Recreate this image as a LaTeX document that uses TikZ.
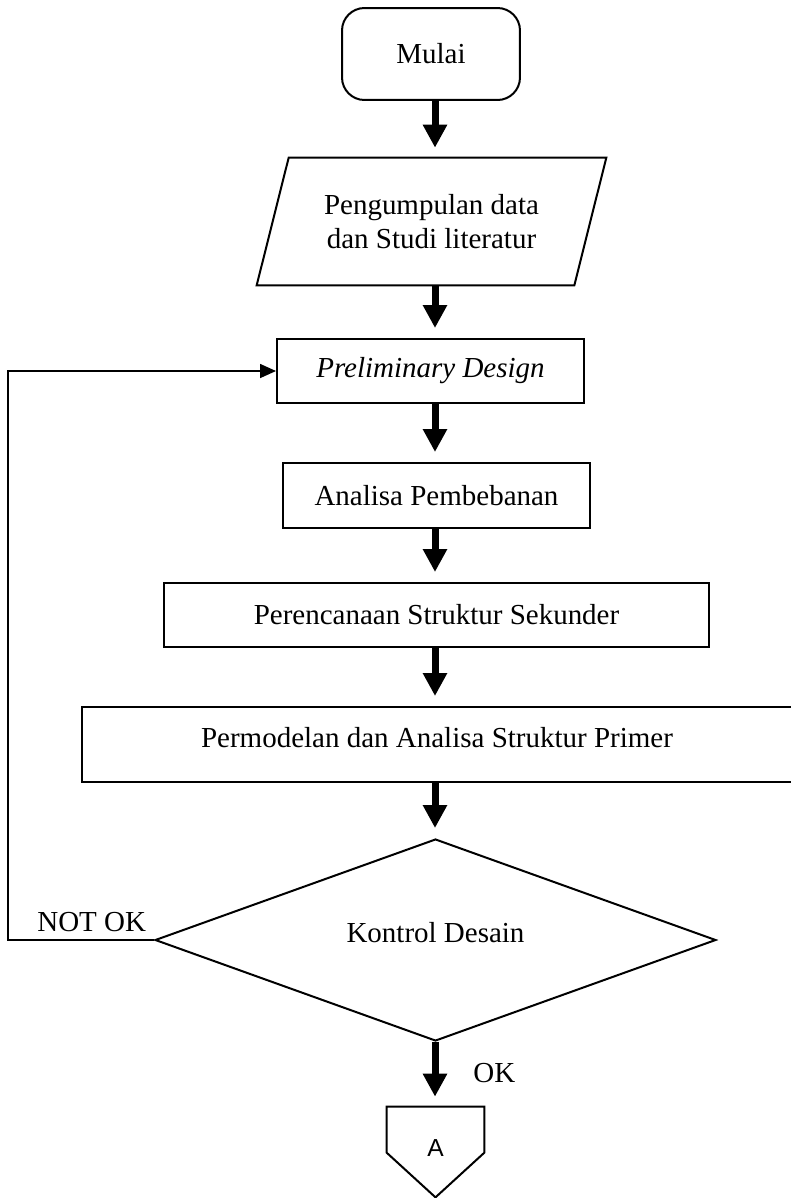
\documentclass[tikz,border=0pt]{standalone}
\usepackage{fontspec}
\setmainfont{Liberation Serif}
\newfontfamily\arialfont{Liberation Sans}
\usetikzlibrary{arrows.meta,shapes.geometric,calc}

\begin{document}
\begin{tikzpicture}[x=0.02cm,y=-0.02cm,
  txt/.style={font=\fontsize{16.5}{19.5}\selectfont},
  kotak/.style={draw,line width=0.04cm,txt,inner sep=0pt},
  alir/.style={line width=0.14cm,-{Triangle[width=0.46cm,length=0.46cm]},shorten >=0.2cm},
  balik/.style={line width=0.03cm,-{Triangle[width=0.28cm,length=0.32cm]}}]
\useasboundingbox[fill=white] (0,0) rectangle (791,1198);
\coordinate (kol) at (435,0);
\coordinate (kiri) at (8,0);
% kotak-kotak proses
\node[kotak,rounded corners=0.45cm,minimum width=3.56cm,minimum height=1.84cm] (mulai) at (431,54) {Mulai};
\node[txt,align=center,inner sep=0pt,minimum width=6.34cm,minimum height=2.54cm] (data) at (431.5,221.5) {Pengumpulan data\\dan Studi literatur};
\draw[line width=0.04cm] ($(data.north west)+(16,0)$) -- ($(data.north east)+(16,0)$) -- ($(data.south east)+(-16,0)$) -- ($(data.south west)+(-16,0)$) -- cycle;
\node[kotak,minimum width=6.14cm,minimum height=1.28cm] (pre) at (430.5,371) {\itshape Preliminary Design};
\node[kotak,minimum width=6.14cm,minimum height=1.3cm] (analisa) at (436.5,495.5) {Analisa Pembebanan};
\node[kotak,minimum width=10.9cm,minimum height=1.28cm] (rencana) at (436.5,615) {Perencanaan Struktur Sekunder};
\node[kotak,minimum width=14.2cm,minimum height=1.5cm] (model) at (437,744.5) {\raisebox{0.3cm}{Permodelan dan Analisa Struktur Primer}};
\node[kotak,diamond,shape aspect=2.8,minimum width=11.22cm,minimum height=4.04cm] (ctrl) at (435.5,940) {\raisebox{0.3cm}{Kontrol Desain}};
\node[font=\arialfont\fontsize{14}{16}\selectfont,inner sep=0pt,minimum width=1.94cm,minimum height=1.8cm] (sambung) at (435.5,1152) {\raisebox{0.15cm}{A}};
\draw[line width=0.04cm] (sambung.north west) -- (sambung.north east) -- ($(sambung.north east)+(0,46)$) -- (sambung.south) -- ($(sambung.north west)+(0,46)$) -- cycle;
% label
\node[txt,anchor=west,inner sep=0pt] (notok) at (37,922) {NOT OK};
\node[txt,anchor=west,inner sep=0pt] (ok) at (473,1073) {OK};
% panah
\draw[alir] (mulai.south -| kol) -- (data.north -| kol);
\draw[alir] (data.south -| kol) -- (pre.north -| kol);
\draw[alir] (pre.south -| kol) -- (analisa.north -| kol);
\draw[alir] (analisa.south -| kol) -- (rencana.north -| kol);
\draw[alir] (rencana.south -| kol) -- (model.north -| kol);
\draw[alir] (model.south -| kol) -- (ctrl.north -| kol);
\draw[alir] (ctrl.south -| kol) -- (sambung.north -| kol);
\draw[balik] (ctrl.west) -- (ctrl.west -| kiri) |- (pre.west);
\end{tikzpicture}
\end{document}
